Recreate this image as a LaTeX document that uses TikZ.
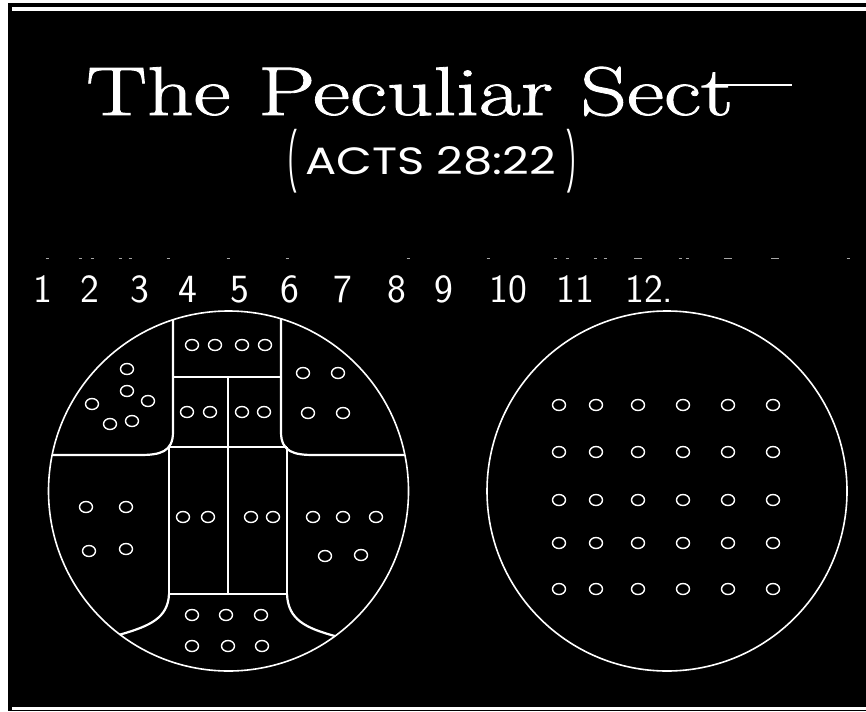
\documentclass[tikz,border=0pt]{standalone}
\usepackage{fontspec}
\newfontfamily\actsfont{Poppins}
\newfontfamily\titlefont{Latin Modern Roman}[FakeBold=1.2]
\begin{document}
\begin{tikzpicture}[x=1pt,y=-1pt,
  ln/.style={white, line width=2.2pt, line join=round},
  rim/.style={white, line width=1.6pt},
  pip/.style={white, line width=1.4pt},
  num/.style={white, anchor=base, inner sep=0pt, font=\fontsize{40}{40}\selectfont\sffamily},
  speck/.style={gray!70, line width=1pt}]
\useasboundingbox (0,0) rectangle (866,711);
\fill[white] (0,0) rectangle (866,711);
\fill[black] (8,3) rectangle (866,711);
\fill[white] (12,7) rectangle (866,11);
\fill[white] (12,706.5) rectangle (866,709.5);
% title
\node[anchor=base west, inner sep=0pt, white] (title) at (86,115)
  {\titlefont\fontsize{69}{69}\selectfont\scalebox{1.32}[1]{The Peculiar Sect}};
\coordinate (flourish) at (792,85);
\draw[white, line width=2.5pt] (710,85) -- (flourish);
% subtitle
\node[anchor=base west, inner sep=0pt, white] (acts) at (305,175)
  {\actsfont\fontsize{38}{38}\selectfont\scalebox{1.22}[1]{ACTS 28:22}};
\node[white, inner sep=0pt] (lp) at (293,161)
  {\actsfont\fontsize{38}{38}\selectfont\scalebox{0.6}[1.5]{(}};
\node[white, inner sep=0pt] (rp) at (572,161)
  {\actsfont\fontsize{38}{38}\selectfont\scalebox{0.6}[1.5]{)}};
% specks
\foreach \x in {47,80,92,120,130,168,228,287,408,488,555,567,595,605,680,687,848}
  \draw[speck] (\x-1.5,258) -- (\x+1.5,258);
\foreach \x in {638,728,775}
  \draw[speck] (\x-4,258) -- (\x+4,258);
% numbers
\foreach \x/\t [count=\i] in {43/1,90/2,140/3,188/4,240/5,290/6,343/7,397/8,444/9,508/10,575/11}
  \node[num] (n\i) at (\x,302) {\t};
\node[num, anchor=base west] (n12) at (625,302) {12.};
% left circle
\draw[rim] (228.5,491) circle [radius=180];
\draw[ln] (173,319.8) -- (173,432) .. controls (173,452) and (160,455) .. (140,455) -- (52.1,455);
\draw[ln] (281,318.8) -- (281,432) .. controls (281,452) and (294,455) .. (314,455) -- (404.9,455);
\draw[ln] (173,377) -- (281,377);
\draw[ln] (228,377) -- (228,594);
\draw[ln] (168,447) -- (287,447);
\draw[ln] (169,447) -- (169,594) -- (287,594) -- (287,447);
\draw[ln] (169,594) .. controls (168,618) and (150,626) .. (120,634.6);
\draw[ln] (287,594) .. controls (288,620) and (306,628) .. (335,636.1);
\foreach \x/\y in {192/345,215/345,242/345,265/345,
  187/412,210/412,242/412,264/412,
  183/517,208/517,251/517,273/517,
  303/373,338/373,308/413,343/413,
  127/369,127/391,92/404,148/401,110/424,132/421,
  86/507,126/507,89/551,126/549,
  313/517,343/517,376/517,325/556,361/555,
  192/615,226/615,261/615,192/646,228/646,262/646}
  \draw[pip] (\x,\y) ellipse [x radius=6.5, y radius=5.5];
% right circle
\draw[rim] (667,491) circle [radius=180];
\foreach \x in {559,596,638,683,728,773}
  \foreach \y in {405,452,500,543,589}
    \draw[pip] (\x,\y) ellipse [x radius=6.5, y radius=5.5];
\end{tikzpicture}
\end{document}
